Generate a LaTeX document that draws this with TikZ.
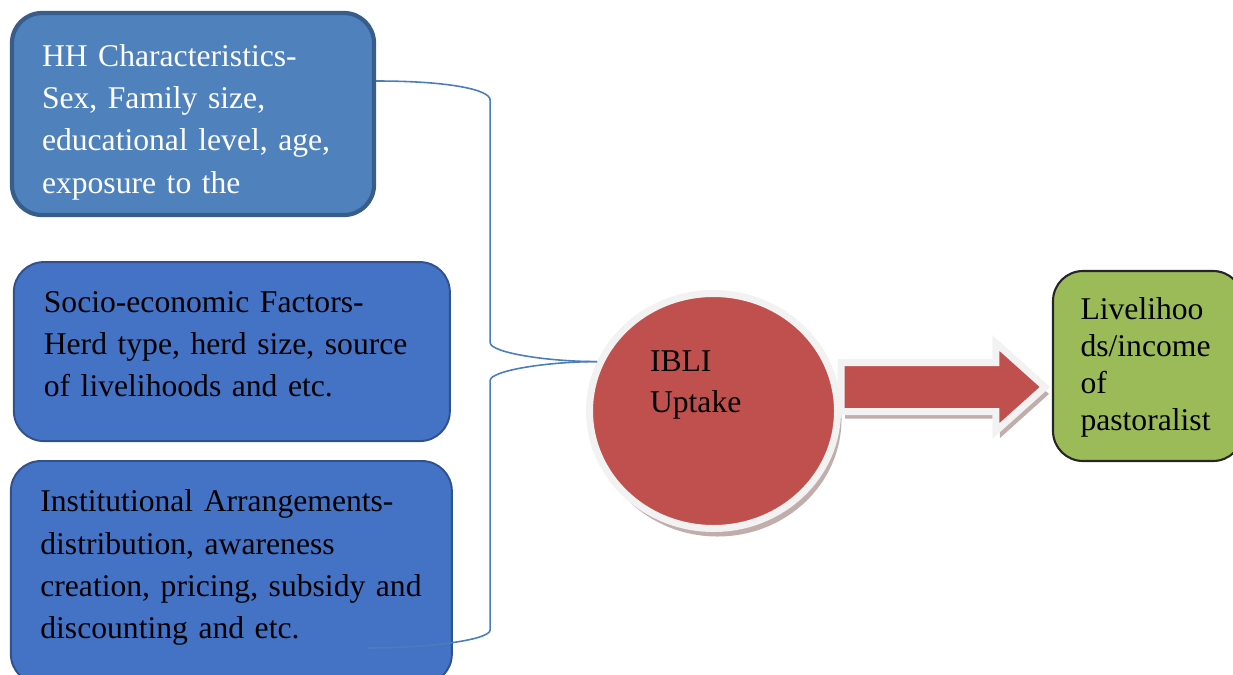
\documentclass[tikz,border=0pt]{standalone}
\usepackage{fontspec}
\setmainfont{Liberation Serif}
\usetikzlibrary{positioning,shapes.geometric,calc,shadows}
\definecolor{hhblue}{HTML}{4F81BD}
\definecolor{hhedge}{HTML}{385D8A}
\definecolor{factorblue}{HTML}{4472C4}
\definecolor{factoredge}{HTML}{2F528F}
\definecolor{uptakered}{HTML}{C0504D}
\definecolor{ringgray}{HTML}{F2F2F2}
\definecolor{shadowred}{HTML}{A88A8A}
\definecolor{outcomegreen}{HTML}{9BBB59}
\definecolor{linkblue}{HTML}{4A7EBB}
\def \medY {0.88cm}
\def \smallY {0.36cm}
\tikzset{
 	factorblock/.style= {draw=factoredge, fill=factorblue, line width=1.1pt, rectangle, rounded corners=0.6cm, align=left, font=\fontsize{18}{24}\selectfont},
 	hhblock/.style= {factorblock, draw=hhedge, fill=hhblue, line width=2.4pt, text=white},
 	uptakeblock/.style= {draw=ringgray, fill=uptakered, ellipse, line width=0.14cm, align=left, text width=2.54cm, minimum width=4.96cm, minimum height=4.70cm, font=\fontsize{18}{23.3}\selectfont, drop shadow={shadow xshift=0.08cm, shadow yshift=-0.16cm, fill=shadowred, opacity=0.7}},
 	outcomeblock/.style= {draw=black!85, fill=outcomegreen, line width=1.2pt, rectangle, rounded corners=0.6cm, align=left, text width=2.7cm, minimum width=3.8cm, minimum height=3.8cm, font=\fontsize{18}{21}\selectfont},
 	flowarrow/.style= {draw=ringgray, fill=uptakered, line width=0.14cm, line join=miter, drop shadow={shadow xshift=0.08cm, shadow yshift=-0.14cm, fill=shadowred, opacity=0.7}},
 	link/.style= {draw=linkblue, line width=0.9pt}
 }
\begin{document}
\begin{tikzpicture}
\useasboundingbox (0,0) rectangle (24.66,-13.48);

%%%%%%%%%%%%%%%%%%%%% Nodes %%%%%%%%%%%%%%%%%%%%%
	\node [hhblock, minimum width=7.24cm, minimum height=4.04cm, text width=6.04cm, text depth=2.34cm] (hh) at (3.86,-2.28) {HH Characteristics-\\Sex, Family size,\\educational level, age,\\exposure to the};
	\node [factorblock, below right=\medY and 0.06cm of hh.south west, minimum width=8.72cm, minimum height=3.58cm, text width=7.52cm, text depth=1.98cm] (socio) {Socio-economic Factors-\\Herd type, herd size, source\\of livelihoods and etc.};
	\node [factorblock, below right=\smallY and -0.06cm of socio.south west, minimum width=8.82cm, minimum height=4.46cm, text width=7.64cm, text depth=2.86cm] (inst) {Institutional Arrangements-\\distribution, awareness\\creation, pricing, subsidy and\\discounting and etc.};
	\node [uptakeblock, text depth=2.0cm] (uptake) at (14.27,-8.22) {IBLI\\Uptake};
	\node [outcomeblock, text depth=2.28cm] (goal) at (22.96,-7.32) {Livelihoo\\ds/income\\of\\pastoralist};

%%%%%%%%%%%%%%%%%%%%% Links %%%%%%%%%%%%%%%%%%%%%
	\coordinate (hhout) at ($(hh.east)+(0,0.66)$);
	\coordinate (spine) at ($(hhout)+(2.28,0)$);
	\coordinate (join) at (uptake.157);
	\coordinate (instin) at ($(inst.east)+(-1.70,-1.51)$);
	\draw [link] (hhout) .. controls +(1.5,0) and +(0,0.2) .. ($(spine)+(0,-0.38)$) -- ($(spine |- join)+(0,0.38)$) .. controls +(0,-0.2) and +(-1.0,0) .. (join);
	\draw [link] (join) .. controls +(-1.0,0) and +(0,0.2) .. ($(spine |- join)+(0,-0.38)$) -- ($(spine |- instin)+(0,0.36)$) .. controls +(0,-0.2) and +(1.2,0) .. (instin);

	\coordinate (tail) at ($(uptake.east)+(0,0.48)$);
	\coordinate (tip) at ($(tail -| goal.west)+(-0.14,0)$);
	\draw [flowarrow] ($(tail)+(0,0.49)$) -- ($(tip)+(-0.98,0.49)$) -- ($(tip)+(-0.98,0.88)$) -- (tip) -- ($(tip)+(-0.98,-0.88)$) -- ($(tip)+(-0.98,-0.49)$) -- ($(tail)+(0,-0.49)$) -- cycle;

\end{tikzpicture}
\end{document}
